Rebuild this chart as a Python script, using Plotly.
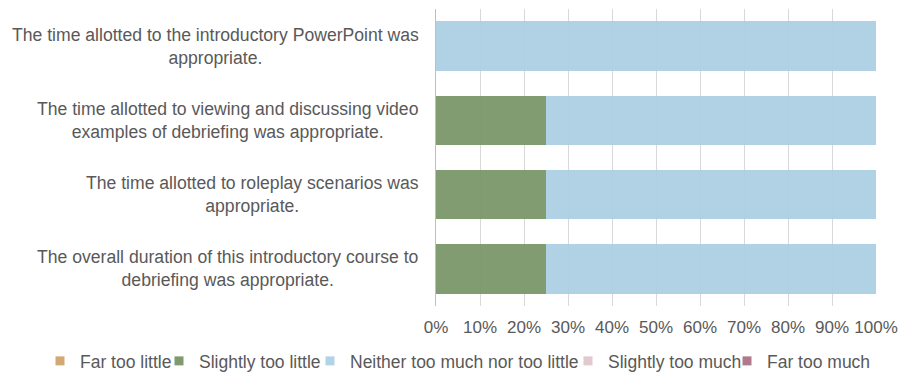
import plotly.graph_objects as go

# Survey statements, listed top to bottom
statements = [
    "The time allotted to the introductory PowerPoint was<br>appropriate.",
    "The time allotted to viewing and discussing video<br>examples of debriefing was appropriate.",
    "The time allotted to roleplay scenarios was<br>appropriate.",
    "The overall duration of this introductory course to<br>debriefing was appropriate.",
]
categories = ["Q1", "Q2", "Q3", "Q4"]

# Share of responses per answer option (%)
far_too_little = [0, 0, 0, 0]
slightly_too_little = [0, 25, 25, 25]
neither = [100, 75, 75, 75]
slightly_too_much = [0, 0, 0, 0]
far_too_much = [0, 0, 0, 0]

x_ticks = [0, 10, 20, 30, 40, 50, 60, 70, 80, 90, 100]
x_tick_labels = [f"{v}%" for v in x_ticks]

series = [
    ("Far too little", far_too_little, "rgba(210,166,116,0.93)", "#d4a872"),
    ("Slightly too little", slightly_too_little, "rgba(120,149,102,0.93)", "#7f9a6d"),
    ("Neither too much nor too little", neither, "rgba(170,207,226,0.93)", "#b0d3e6"),
    ("Slightly too much", slightly_too_much, "rgba(226,196,206,0.93)", "#e3c8d0"),
    ("Far too much", far_too_much, "rgba(172,114,136,0.93)", "#b07a8c"),
]

font_family = "Liberation Sans, Arial, sans-serif"
text_color = "#595959"

W, H = 913, 373
plot_left, plot_right = 436, 876
plot_top, plot_bottom = 9, 306
plot_w = plot_right - plot_left
plot_h = plot_bottom - plot_top

# Pixel x of each legend entry's start, and the legend row's centre y
legend_entry_x = [40, 159, 310, 568, 727]
legend_row_y = 361

fig = go.Figure()
for name, values, color, _ in series:
    fig.add_trace(go.Bar(
        name=name,
        y=categories,
        x=values,
        orientation="h",
        marker=dict(color=color, line=dict(width=0)),
        hoverinfo="x+name",
        showlegend=False,
    ))

# One single-entry legend per answer option, laid out in a row
legend_layouts = {}
for i, (name, _, _, swatch) in enumerate(series):
    key = "legend" if i == 0 else f"legend{i + 1}"
    fig.add_trace(go.Scatter(
        name=name,
        x=[None], y=[None],
        mode="markers",
        marker=dict(symbol="square", size=9, color=swatch),
        showlegend=True,
        legend=key,
    ))
    legend_layouts[key] = dict(
        orientation="h",
        xref="container",
        x=legend_entry_x[i] / W,
        xanchor="left",
        yref="container",
        y=1 - legend_row_y / H,
        yanchor="middle",
        font=dict(family=font_family, size=17.5, color=text_color),
        itemwidth=30,
        bgcolor="rgba(0,0,0,0)",
        borderwidth=0,
    )

# Statement labels: right-aligned blocks with centered lines
for cat, label in zip(categories, statements):
    fig.add_annotation(
        x=(421 - plot_left) / plot_w, xref="paper", xanchor="right",
        y=cat, yref="y", yanchor="middle",
        text=label, showarrow=False, align="center",
        font=dict(family=font_family, size=17.6, color=text_color),
    )

fig.update_layout(
    barmode="stack",
    bargap=0.333,
    width=W,
    height=H,
    margin=dict(l=plot_left, r=W - plot_right, t=plot_top, b=H - plot_bottom),
    paper_bgcolor="white",
    plot_bgcolor="white",
    font=dict(family=font_family, size=17.5, color=text_color),
    xaxis=dict(
        range=[0, 100],
        tickvals=x_ticks,
        ticktext=x_tick_labels,
        showgrid=True,
        gridcolor="#d9d9d9",
        gridwidth=1,
        zeroline=False,
        showline=False,
        ticks="",
        ticklabelstandoff=9,
        automargin=False,
        tickfont=dict(size=17, color=text_color),
        fixedrange=True,
    ),
    yaxis=dict(
        categoryorder="array",
        categoryarray=categories[::-1],
        showticklabels=False,
        showgrid=False,
        zeroline=False,
        showline=True,
        linecolor="#bfbfbf",
        linewidth=1,
        ticks="",
        automargin=False,
        fixedrange=True,
    ),
    showlegend=True,
    **legend_layouts,
)

fig.write_html("out.html")
